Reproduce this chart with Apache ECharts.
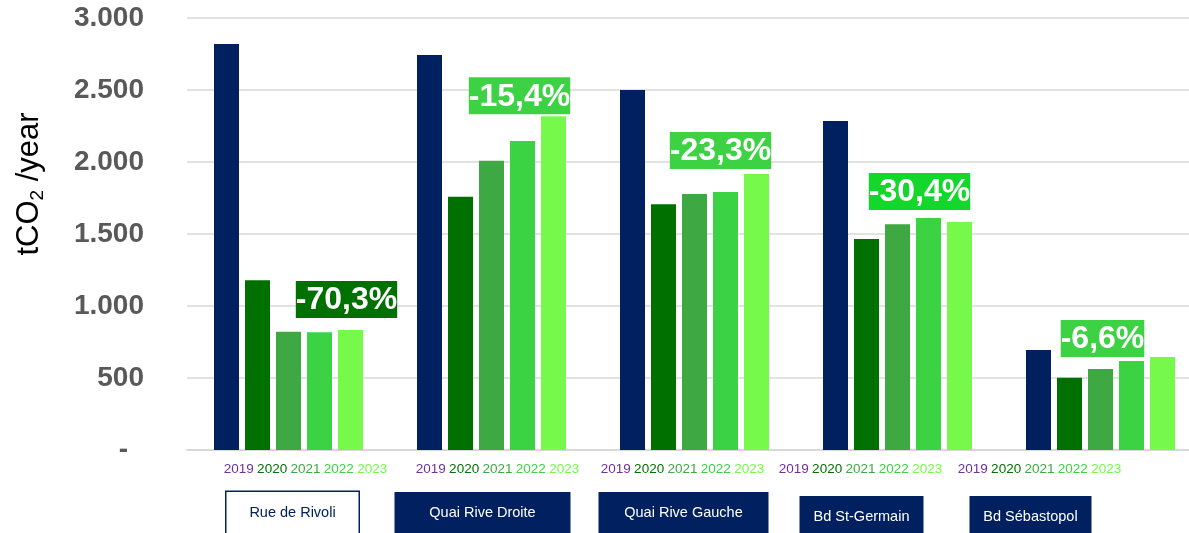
<!DOCTYPE html>
<html>
<head>
<meta charset="utf-8">
<script src="https://cdn.jsdelivr.net/npm/echarts@6/dist/echarts.min.js"></script>
<style>
    html, body { margin: 0; padding: 0; background: #fff; }
    #chart { width: 1189px; height: 533px; }
</style>
</head>
<body>
<div id="chart"></div>
<script>
const streets = ['Rue de Rivoli', 'Quai Rive Droite', 'Quai Rive Gauche', 'Bd St-Germain', 'Bd Sébastopol']
const years = ['2019', '2020', '2021', '2022', '2023']
const v2019 = [2819, 2743, 2500, 2285, 694]
const v2020 = [1178, 1759, 1706, 1465, 502]
const v2021 = [822, 2009, 1778, 1567, 563]
const v2022 = [817, 2146, 1792, 1611, 618]
const v2023 = [833, 2317, 1917, 1583, 646]
const changeLabels = ['-70,3%', '-15,4%', '-23,3%', '-30,4%', '-6,6%']
const yTicks = [0, 500, 1000, 1500, 2000, 2500, 3000]

// styling / layout tweaks
const barColors = ['#002060', '#007000', '#3EA843', '#3BD243', '#76F94B']
const yearColors = ['#7030A0', '#007000', '#3EA843', '#3BD243', '#76F94B']
const badgeColors = ['#007000', '#3CD243', '#3CD243', '#14D72C', '#3CD243']
const badgeDx = [-4, -34, -36, -40, -60]
const badgeGap = [12, 2, 5, 12, 0]
const yearShift = [17, 6, -12, -37, -61]
const boxShift = [4, -9, -11, -36, -70]
const boxWidth = [132, 176, 170, 124, 122]
const boxDrop = [0, 0, 0, 4, 4]

const sans = '"Liberation Sans", Arial, sans-serif'

const fmtThousands = v => v === 0 ? '{z|-}' : String(v).replace(/\B(?=(\d{3})+(?!\d))/g, '.')

// rich styles
const yearRich = {}
years.forEach((y, i) => {
    yearRich['y' + i] = { color: yearColors[i], fontSize: 13.5, fontFamily: sans }
})
streets.forEach((s, i) => {
    yearRich['s' + i] = { width: Math.abs(yearShift[i] * 2), fontSize: 13.5 }
})
const boxRich = {}
streets.forEach((s, i) => {
    boxRich['b' + i] = {
        width: boxWidth[i],
        height: 42,
        align: 'center',
        verticalAlign: 'bottom',
        fontSize: 14.5,
        fontFamily: sans,
        color: i === 0 ? '#002060' : '#ffffff',
        backgroundColor: i === 0 ? '#ffffff' : '#002060',
        borderColor: '#002060',
        borderWidth: i === 0 ? 1.5 : 0
    }
    boxRich['p' + i] = { width: Math.abs(boxShift[i] * 2), height: 42 + boxDrop[i] }
})

const series = [v2019, v2020, v2021, v2022, v2023].map((vals, k) => {
    const obj = {
        name: years[k],
        type: 'bar',
        barWidth: 25,
        barGap: '24%',
        itemStyle: { color: barColors[k] },
        data: vals
    }
    if (k === 4) {
        obj.data = vals.map((v, i) => ({
            value: v,
            label: {
                show: true,
                position: 'top',
                distance: badgeGap[i],
                offset: [badgeDx[i], 0],
                formatter: changeLabels[i],
                backgroundColor: badgeColors[i],
                color: '#ffffff',
                fontWeight: 'bold',
                fontSize: 32,
                fontFamily: sans,
                lineHeight: 33,
                padding: [3, 0, 1, 0]
            }
        }))
    }
    return obj
})

const chart = echarts.init(document.getElementById('chart'))
chart.setOption({
    animation: false,
    grid: { left: 187, top: 18, width: 1015, height: 432, outerBoundsMode: 'none', containLabel: false },
    xAxis: [{
        type: 'category',
        data: streets,
        axisLine: { lineStyle: { color: '#d9d9d9', width: 2 } },
        axisTick: { show: false },
        axisLabel: {
            interval: 0,
            margin: 10,
            lineHeight: 18,
            formatter: (val, i) => {
                const txt = years.map((y, k) => `{y${k}|${y}}`).join(' ')
                return yearShift[i] > 0 ? `{s${i}| }${txt}` : `${txt}{s${i}| }`
            },
            rich: yearRich
        }
    }, {
        type: 'category',
        data: streets,
        position: 'bottom',
        axisLine: { show: false },
        axisTick: { show: false },
        axisLabel: {
            interval: 0,
            margin: 42,
            formatter: (val, i) => boxShift[i] > 0 ? `{p${i}| }{b${i}|${val}}` : `{b${i}|${val}}{p${i}| }`,
            rich: boxRich
        }
    }],
    yAxis: {
        type: 'value',
        min: yTicks[0],
        max: yTicks[yTicks.length - 1],
        interval: 500,
        name: '{sp| }{a|tCO}{b|2}{a| /year}',
        nameLocation: 'middle',
        nameRotate: 90,
        nameGap: 140,
        nameTextStyle: {
            rich: {
                sp: { width: 100, fontSize: 31 },
                a: { fontSize: 31, fontFamily: sans, color: '#000000', lineHeight: 36 },
                b: { fontSize: 19, fontFamily: sans, color: '#000000', verticalAlign: 'bottom', lineHeight: 32 }
            }
        },
        axisLine: { show: false },
        axisTick: { show: false },
        axisLabel: {
            margin: 43,
            color: '#595959',
            fontSize: 28,
            fontWeight: 'bold',
            fontFamily: sans,
            formatter: fmtThousands,
            rich: { z: { padding: [0, 16, 0, 0], color: '#595959', fontSize: 28, fontWeight: 'bold', fontFamily: sans } }
        },
        splitLine: { lineStyle: { color: '#d9d9d9', width: 1.5 } }
    },
    series: series
})
</script>
</body>
</html>
